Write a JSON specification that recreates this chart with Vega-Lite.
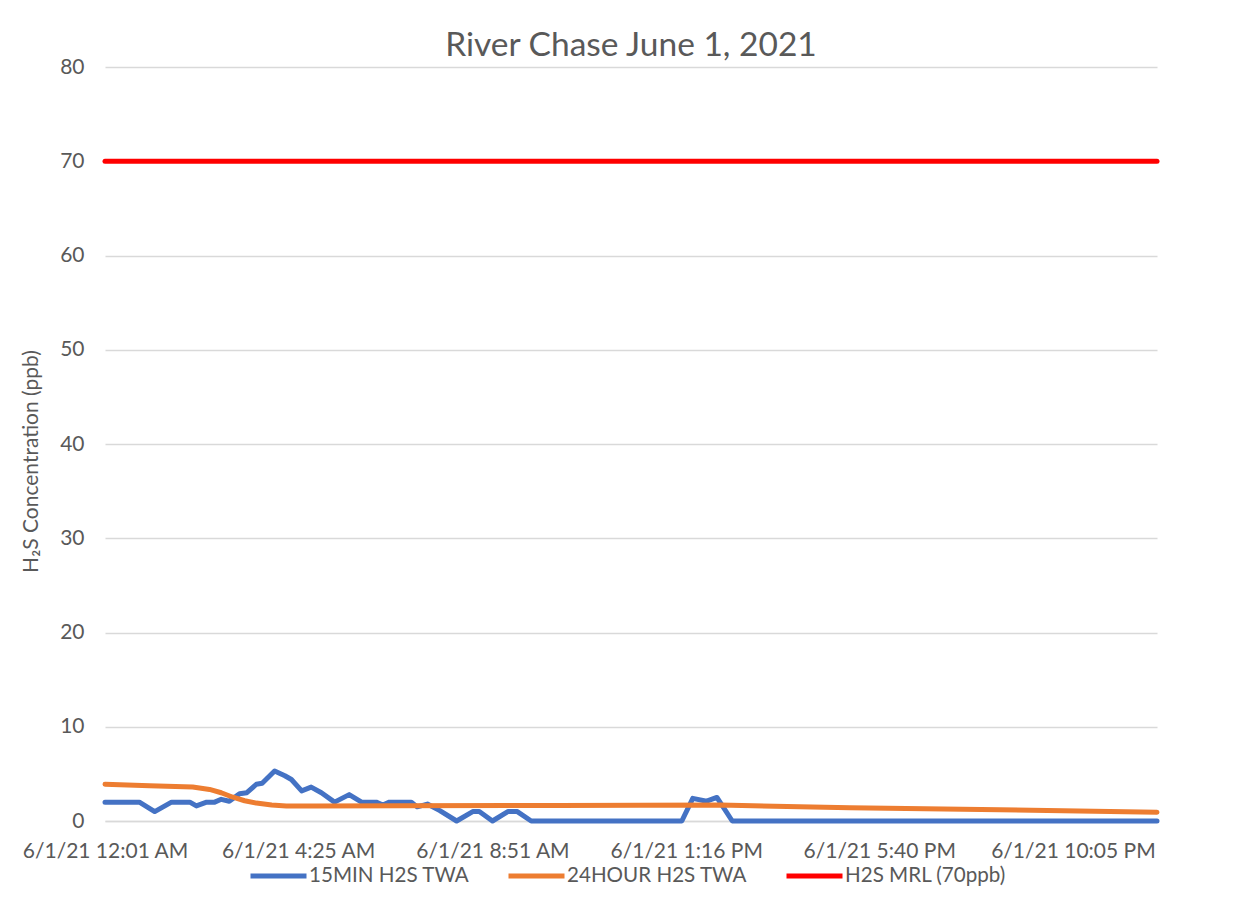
{
  "$schema": "https://vega.github.io/schema/vega-lite/v6.json",
  "width": 1052,
  "height": 754,
  "autosize": {"type": "none"},
  "padding": {"left": 105, "top": 67, "right": 96, "bottom": 88},
  "background": "white",
  "config": {
    "font": "Lato",
    "view": {"stroke": null}
  },
  "title": {
    "text": "River Chase June 1, 2021",
    "font": "Lato",
    "fontSize": 33.5,
    "fontWeight": "normal",
    "color": "#595959",
    "anchor": "middle",
    "dx": 0,
    "offset": -7
  },
  "data": {
    "values": [
      {"t": "2021-06-01T00:01:00", "v": 2.0, "s": "15MIN H2S TWA"},
      {"t": "2021-06-01T00:48:00", "v": 2.0, "s": "15MIN H2S TWA"},
      {"t": "2021-06-01T01:09:00", "v": 1.0, "s": "15MIN H2S TWA"},
      {"t": "2021-06-01T01:32:00", "v": 2.0, "s": "15MIN H2S TWA"},
      {"t": "2021-06-01T01:57:00", "v": 2.0, "s": "15MIN H2S TWA"},
      {"t": "2021-06-01T02:06:00", "v": 1.6, "s": "15MIN H2S TWA"},
      {"t": "2021-06-01T02:20:00", "v": 2.0, "s": "15MIN H2S TWA"},
      {"t": "2021-06-01T02:31:00", "v": 2.0, "s": "15MIN H2S TWA"},
      {"t": "2021-06-01T02:40:00", "v": 2.3, "s": "15MIN H2S TWA"},
      {"t": "2021-06-01T02:51:00", "v": 2.1, "s": "15MIN H2S TWA"},
      {"t": "2021-06-01T03:05:00", "v": 2.9, "s": "15MIN H2S TWA"},
      {"t": "2021-06-01T03:15:00", "v": 3.0, "s": "15MIN H2S TWA"},
      {"t": "2021-06-01T03:28:00", "v": 3.9, "s": "15MIN H2S TWA"},
      {"t": "2021-06-01T03:36:00", "v": 4.0, "s": "15MIN H2S TWA"},
      {"t": "2021-06-01T03:53:00", "v": 5.3, "s": "15MIN H2S TWA"},
      {"t": "2021-06-01T04:07:00", "v": 4.8, "s": "15MIN H2S TWA"},
      {"t": "2021-06-01T04:16:00", "v": 4.4, "s": "15MIN H2S TWA"},
      {"t": "2021-06-01T04:30:00", "v": 3.2, "s": "15MIN H2S TWA"},
      {"t": "2021-06-01T04:43:00", "v": 3.6, "s": "15MIN H2S TWA"},
      {"t": "2021-06-01T04:57:00", "v": 3.0, "s": "15MIN H2S TWA"},
      {"t": "2021-06-01T05:15:00", "v": 2.0, "s": "15MIN H2S TWA"},
      {"t": "2021-06-01T05:35:00", "v": 2.8, "s": "15MIN H2S TWA"},
      {"t": "2021-06-01T05:52:00", "v": 2.0, "s": "15MIN H2S TWA"},
      {"t": "2021-06-01T06:12:00", "v": 2.0, "s": "15MIN H2S TWA"},
      {"t": "2021-06-01T06:21:00", "v": 1.7, "s": "15MIN H2S TWA"},
      {"t": "2021-06-01T06:30:00", "v": 2.0, "s": "15MIN H2S TWA"},
      {"t": "2021-06-01T07:00:00", "v": 2.0, "s": "15MIN H2S TWA"},
      {"t": "2021-06-01T07:08:00", "v": 1.5, "s": "15MIN H2S TWA"},
      {"t": "2021-06-01T07:22:00", "v": 1.8, "s": "15MIN H2S TWA"},
      {"t": "2021-06-01T07:39:00", "v": 1.1, "s": "15MIN H2S TWA"},
      {"t": "2021-06-01T08:02:00", "v": 0.0, "s": "15MIN H2S TWA"},
      {"t": "2021-06-01T08:24:00", "v": 1.0, "s": "15MIN H2S TWA"},
      {"t": "2021-06-01T08:33:00", "v": 1.0, "s": "15MIN H2S TWA"},
      {"t": "2021-06-01T08:51:00", "v": 0.0, "s": "15MIN H2S TWA"},
      {"t": "2021-06-01T09:12:00", "v": 1.0, "s": "15MIN H2S TWA"},
      {"t": "2021-06-01T09:25:00", "v": 1.0, "s": "15MIN H2S TWA"},
      {"t": "2021-06-01T09:44:00", "v": 0.0, "s": "15MIN H2S TWA"},
      {"t": "2021-06-01T13:10:00", "v": 0.0, "s": "15MIN H2S TWA"},
      {"t": "2021-06-01T13:25:00", "v": 2.4, "s": "15MIN H2S TWA"},
      {"t": "2021-06-01T13:44:00", "v": 2.1, "s": "15MIN H2S TWA"},
      {"t": "2021-06-01T13:58:00", "v": 2.5, "s": "15MIN H2S TWA"},
      {"t": "2021-06-01T14:19:00", "v": 0.0, "s": "15MIN H2S TWA"},
      {"t": "2021-06-02T00:00:00", "v": 0.0, "s": "15MIN H2S TWA"},
      {"t": "2021-06-01T00:01:00", "v": 3.9, "s": "24HOUR H2S TWA"},
      {"t": "2021-06-01T01:02:00", "v": 3.75, "s": "24HOUR H2S TWA"},
      {"t": "2021-06-01T02:01:00", "v": 3.6, "s": "24HOUR H2S TWA"},
      {"t": "2021-06-01T02:24:00", "v": 3.35, "s": "24HOUR H2S TWA"},
      {"t": "2021-06-01T02:40:00", "v": 3.0, "s": "24HOUR H2S TWA"},
      {"t": "2021-06-01T02:55:00", "v": 2.55, "s": "24HOUR H2S TWA"},
      {"t": "2021-06-01T03:12:00", "v": 2.15, "s": "24HOUR H2S TWA"},
      {"t": "2021-06-01T03:28:00", "v": 1.9, "s": "24HOUR H2S TWA"},
      {"t": "2021-06-01T03:49:00", "v": 1.7, "s": "24HOUR H2S TWA"},
      {"t": "2021-06-01T04:09:00", "v": 1.6, "s": "24HOUR H2S TWA"},
      {"t": "2021-06-01T04:50:00", "v": 1.58, "s": "24HOUR H2S TWA"},
      {"t": "2021-06-01T06:44:00", "v": 1.62, "s": "24HOUR H2S TWA"},
      {"t": "2021-06-01T10:23:00", "v": 1.65, "s": "24HOUR H2S TWA"},
      {"t": "2021-06-01T14:02:00", "v": 1.7, "s": "24HOUR H2S TWA"},
      {"t": "2021-06-01T17:00:00", "v": 1.4, "s": "24HOUR H2S TWA"},
      {"t": "2021-06-01T20:25:00", "v": 1.2, "s": "24HOUR H2S TWA"},
      {"t": "2021-06-02T00:00:00", "v": 0.92, "s": "24HOUR H2S TWA"},
      {"t": "2021-06-01T00:01:00", "v": 70, "s": "H2S MRL (70ppb)"},
      {"t": "2021-06-02T00:00:00", "v": 70, "s": "H2S MRL (70ppb)"}
    ]
  },
  "mark": {"type": "line", "strokeWidth": 5, "strokeJoin": "round", "strokeCap": "round", "clip": false},
  "encoding": {
    "x": {
      "field": "t",
      "type": "temporal",
      "scale": {
        "domain": [
          {"year": 2021, "month": 6, "date": 1, "hours": 0, "minutes": 1},
          {"year": 2021, "month": 6, "date": 2, "hours": 0, "minutes": 0}
        ]
      },
      "axis": {
        "title": null,
        "values": [
          {"year": 2021, "month": 6, "date": 1, "hours": 0, "minutes": 1},
          {"year": 2021, "month": 6, "date": 1, "hours": 4, "minutes": 25},
          {"year": 2021, "month": 6, "date": 1, "hours": 8, "minutes": 51},
          {"year": 2021, "month": 6, "date": 1, "hours": 13, "minutes": 16},
          {"year": 2021, "month": 6, "date": 1, "hours": 17, "minutes": 40},
          {"year": 2021, "month": 6, "date": 1, "hours": 22, "minutes": 5}
        ],
        "format": "%-m/%-d/%y %-I:%M %p",
        "labelFont": "Lato",
        "labelFontSize": 21,
        "labelColor": "#595959",
        "labelPadding": 19,
        "labelLimit": 400,
        "labelOverlap": false,
        "labelFlush": false,
        "ticks": false,
        "grid": false,
        "domainColor": "#D9D9D9",
        "domainWidth": 1.5
      }
    },
    "y": {
      "field": "v",
      "type": "quantitative",
      "scale": {"domain": [0, 80], "nice": false},
      "axis": {
        "title": "H₂S Concentration (ppb)",
        "titleFont": "Lato",
        "titleFontSize": 21,
        "titleFontWeight": "normal",
        "titleColor": "#595959",
        "titlePadding": 18,
        "titleY": 394,
        "values": [0, 10, 20, 30, 40, 50, 60, 70, 80],
        "labelFont": "Lato",
        "labelFontSize": 21,
        "labelColor": "#595959",
        "labelPadding": 21,
        "ticks": false,
        "domain": false,
        "gridColor": "#D9D9D9",
        "gridWidth": 1.3
      }
    },
    "color": {
      "field": "s",
      "type": "nominal",
      "scale": {
        "domain": ["15MIN H2S TWA", "24HOUR H2S TWA", "H2S MRL (70ppb)"],
        "range": ["#4472C4", "#ED7D31", "#FF0000"]
      },
      "legend": {
        "title": null,
        "orient": "none",
        "direction": "horizontal",
        "legendX": 143,
        "legendY": 778,
        "padding": 0,
        "symbolType": "stroke",
        "symbolStrokeWidth": 5,
        "symbolSize": 3136,
        "labelFont": "Lato",
        "labelFontSize": 20.6,
        "labelColor": "#595959",
        "labelLimit": 400,
        "labelOffset": 0,
        "columnPadding": 28
      }
    }
  }
}
